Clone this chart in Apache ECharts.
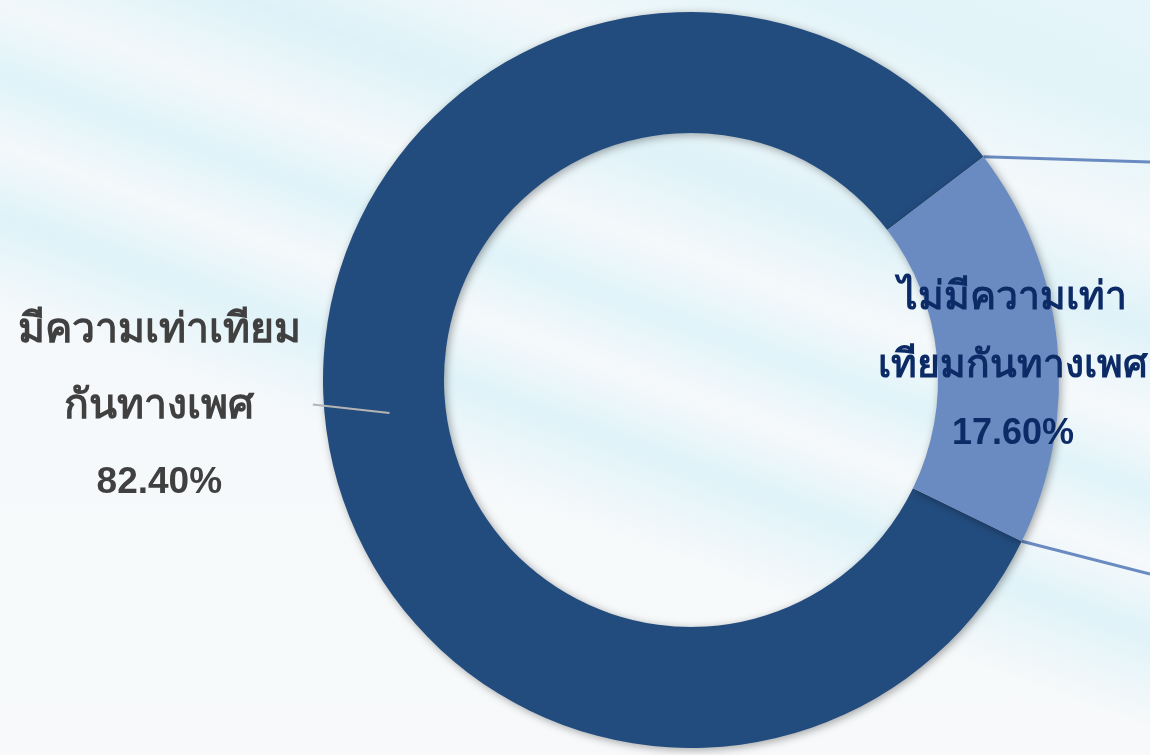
<!DOCTYPE html>
<html>
<head>
<meta charset="utf-8">
<script src="https://cdn.jsdelivr.net/npm/echarts@6/dist/echarts.min.js"></script>
<style>
html,body{margin:0;padding:0;width:1150px;height:755px;overflow:hidden;}
body{
  background:
    linear-gradient(20deg, rgba(255,255,255,0) 0%, rgba(255,255,255,0) 38%, rgba(205,238,247,0.55) 46%, rgba(255,255,255,0) 52%, rgba(210,240,248,0.6) 58%, rgba(255,255,255,0) 64%, rgba(200,236,246,0.5) 72%, rgba(255,255,255,0) 80%, rgba(215,241,248,0.6) 90%, rgba(225,244,250,0.7) 100%),
    linear-gradient(180deg, #f2f8fa 0%, #f6f9fb 50%, #f7f9fa 100%);
}
#chart{width:1150px;height:755px;}
</style>
</head>
<body>
<div id="chart"></div>
<script>
const categories = ['มีความเท่าเทียมกันทางเพศ', 'ไม่มีความเท่าเทียมกันทางเพศ'];
const values = [82.4, 17.6];
const labelParts = [['มีความเท่าเทียม', 'กันทางเพศ'], ['ไม่มีความเท่า', 'เทียมกันทางเพศ']];
const percentLabels = ['82.40%', '17.60%'];

const colors = ['#234c7e', '#6a8bc2'];
const startAngle = -26;
const cx = 691, cy = 380, rOuter = 368, rInner = 247;

const chart = echarts.init(document.getElementById('chart'));

function fmt(i) {
  return '{t|' + labelParts[i][0] + '}\n{t|' + labelParts[i][1] + '}\n{n|' + percentLabels[i] + '}';
}

const total = values.reduce((a, b) => a + b, 0);
const a0 = startAngle - values[0] / total * 360;
const midA = startAngle - values[0] / total * 180;
function pt(deg, r) {
  const rad = deg * Math.PI / 180;
  return [cx + r * Math.cos(rad), cy - r * Math.sin(rad)];
}
const pUp = pt(a0 + 360, rOuter);
const pDown = pt(startAngle, rOuter);
const pMidIn = pt(midA, rOuter - 65);
const pMidOut = pt(midA, rOuter);
const ff = 'Liberation Sans, Arial, sans-serif';

chart.setOption({
  backgroundColor: 'transparent',
  animation: false,
  series: [{
    type: 'pie',
    center: [cx, cy],
    radius: [rInner, rOuter],
    startAngle: startAngle,
    clockwise: true,
    avoidLabelOverlap: false,
    itemStyle: {
      shadowColor: 'rgba(0,0,0,0.35)',
      shadowBlur: 8,
      shadowOffsetX: 2,
      shadowOffsetY: 2
    },
    data: [
      {
        value: values[0], name: categories[0],
        itemStyle: { color: colors[0] },
        label: {
          show: true, position: 'outside', formatter: fmt(0),
          rich: {
            t: { align: 'center', fontSize: 41, fontWeight: 'bold', color: '#404040', lineHeight: 76, fontFamily: ff },
            n: { align: 'center', fontSize: 37, fontWeight: 'bold', color: '#404040', lineHeight: 76, fontFamily: ff }
          }
        },
        labelLine: { show: false }
      },
      {
        value: values[1], name: categories[1],
        itemStyle: { color: colors[1] },
        label: {
          show: true, position: 'inside', formatter: fmt(1),
          rich: {
            t: { align: 'center', fontSize: 39, fontWeight: 'bold', color: '#0c2a66', lineHeight: 68, fontFamily: ff },
            n: { align: 'center', fontSize: 36, fontWeight: 'bold', color: '#0c2a66', lineHeight: 68, fontFamily: ff }
          }
        },
        labelLine: { show: false }
      }
    ],
    labelLayout: function (p) {
      if (p.dataIndex === 0) {
        return { x: pMidOut[0] - 24, y: pMidOut[1] - 10, align: 'right', verticalAlign: 'middle' };
      }
      if (p.dataIndex === 1) {
        return { dx: 13, dy: 17 };
      }
    }
  }],
  graphic: [
    { type: 'line', z: 0, shape: { x1: pUp[0], y1: pUp[1], x2: 1150, y2: 162 }, style: { stroke: colors[1], lineWidth: 3 } },
    { type: 'line', z: 0, shape: { x1: pDown[0], y1: pDown[1], x2: 1150, y2: 574 }, style: { stroke: colors[1], lineWidth: 3 } },
    { type: 'line', z: 100, shape: { x1: pMidIn[0], y1: pMidIn[1] + 3, x2: pMidOut[0] - 12, y2: pMidOut[1] - 12 }, style: { stroke: '#b4b4b4', lineWidth: 2 } }
  ]
});
</script>
</body>
</html>
